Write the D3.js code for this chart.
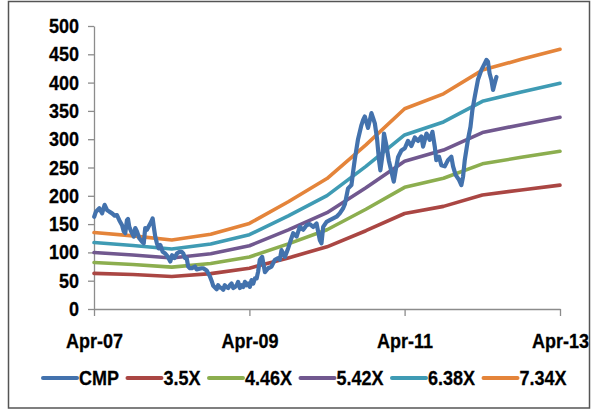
<!DOCTYPE html>
<html>
<head>
<meta charset="utf-8">
<script src="https://cdn.jsdelivr.net/npm/d3@7"></script>
<style>
  html, body { margin: 0; padding: 0; background: #fff; }
  svg { display: block; }
  text { font-family: "Liberation Sans", Arial, sans-serif; font-weight: bold; fill: #000; }
</style>
</head>
<body>
<svg id="chart" width="593" height="411"></svg>
<script>
// Share price (CMP) against P/E band lines
const bandDates = ["2007-04-01","2007-10-01","2008-04-01","2008-10-01","2009-04-01","2009-10-01",
  "2010-04-01","2010-10-01","2011-04-01","2011-10-01","2012-04-01","2012-10-01","2013-04-01"];

const band350 = [63.0, 61.0, 57.5, 62.5, 72.1, 90.3, 109.9, 138.3, 168.7, 181.3, 201.3, 210.4, 218.8];
const band446 = [82.1, 78.5, 74.0, 80.3, 91.9, 115.1, 140.0, 176.2, 215.0, 231.0, 256.5, 268.0, 278.8];
const band542 = [99.7, 95.4, 90.0, 97.6, 111.7, 139.8, 170.2, 214.1, 261.2, 280.8, 311.7, 325.7, 338.8];
const band638 = [117.4, 112.3, 105.9, 114.8, 131.4, 164.6, 200.3, 252.0, 307.5, 330.5, 366.9, 383.4, 398.8];
const band734 = [135.1, 129.2, 121.8, 132.1, 151.2, 189.4, 230.5, 289.9, 353.8, 380.2, 422.1, 441.1, 458.8];

const cmpDates = ["2007-04-02","2007-04-10","2007-04-26","2007-05-09","2007-05-21","2007-06-01","2007-06-12",
  "2007-06-25","2007-07-07","2007-07-18","2007-07-29","2007-08-11","2007-08-19","2007-08-26","2007-09-03",
  "2007-09-08","2007-09-14","2007-09-23","2007-10-05","2007-10-12","2007-10-20","2007-10-31","2007-11-13",
  "2007-11-21","2007-11-28","2007-12-06","2007-12-17","2007-12-26","2008-01-02","2008-01-08","2008-01-14",
  "2008-01-22","2008-01-30","2008-02-07","2008-02-18","2008-03-01","2008-03-14","2008-03-25","2008-04-02",
  "2008-04-14","2008-04-25","2008-05-06","2008-05-17","2008-05-25","2008-06-02","2008-06-10","2008-06-17",
  "2008-06-25","2008-07-03","2008-07-19","2008-07-27","2008-08-19","2008-08-27","2008-09-12","2008-09-27",
  "2008-10-05","2008-10-13","2008-10-29","2008-11-05","2008-11-13","2008-11-21","2008-11-29","2008-12-06",
  "2008-12-14","2008-12-22","2008-12-30","2009-01-07","2009-01-15","2009-01-23","2009-01-31","2009-02-07",
  "2009-02-15","2009-02-23","2009-03-03","2009-03-11","2009-03-19","2009-03-26","2009-04-03","2009-04-11",
  "2009-04-19","2009-04-27","2009-05-05","2009-05-12","2009-05-20","2009-05-31","2009-06-13","2009-06-28",
  "2009-07-14","2009-07-22","2009-07-30","2009-08-14","2009-08-22","2009-08-30","2009-09-15","2009-09-30",
  "2009-10-13","2009-10-24","2009-11-09","2009-11-24","2009-12-10","2009-12-26","2010-01-10","2010-01-26",
  "2010-02-11","2010-02-26","2010-03-06","2010-03-14","2010-03-30","2010-04-14","2010-04-30","2010-05-16",
  "2010-05-31","2010-06-16","2010-06-24","2010-07-09","2010-07-25","2010-08-02","2010-08-10","2010-08-25",
  "2010-09-10","2010-09-18","2010-09-26","2010-10-11","2010-10-27","2010-11-04","2010-11-12","2010-11-22",
  "2010-12-02","2010-12-08","2010-12-18","2010-12-25","2011-01-05","2011-01-17","2011-01-29","2011-02-09",
  "2011-02-18","2011-03-01","2011-03-17","2011-04-02","2011-04-17","2011-05-03","2011-05-19","2011-06-03",
  "2011-06-19","2011-06-27","2011-07-13","2011-07-28","2011-08-10","2011-08-21","2011-08-28","2011-09-10",
  "2011-09-21","2011-10-07","2011-10-22","2011-11-07","2011-11-15","2011-11-27","2011-12-13","2011-12-24",
  "2012-01-01","2012-01-09","2012-01-24","2012-02-05","2012-02-14","2012-02-25","2012-03-11","2012-03-27",
  "2012-04-12","2012-04-20","2012-04-27","2012-05-05","2012-05-13","2012-05-21","2012-05-29","2012-06-06"];

const cmpValues = [163,172,178,169,184,175,172,
  169,165,166,157,148,137,134,157,
  159,145,137,128,143,137,125,119,
  116,143,140,148,154,160,143,128,
  116,107,113,101,98,92,84,95,
  90,98,101,101,98,90,90,75,
  72,72,75,70,72,72,68,58,
  50,41,35,42,38,37,34,42,
  39,37,42,45,37,39,42,48,
  37,42,39,48,42,45,39,51,
  45,54,54,66,87,92,65,72,
  75,81,87,90,87,104,92,107,
  122,134,128,145,140,148,150,145,
  151,122,116,145,154,157,160,163,
  169,178,185,213,219,243,265,300,
  325,334,340,320,346,337,328,302,
  262,245,272,310,290,262,243,225,
  245,268,280,284,297,288,303,297,
  305,287,310,299,313,287,263,269,
  254,252,263,269,252,237,228,219,
  234,263,299,322,352,375,405,422,
  434,440,437,416,405,387,399,410];

const seriesNames = ["CMP", "3.5X", "4.46X", "5.42X", "6.38X", "7.34X"];
const seriesColors = ["#4372AD", "#AA4643", "#8CAE4F", "#71588F", "#3F9BB4", "#E4843A"];
const yTicks = [0, 50, 100, 150, 200, 250, 300, 350, 400, 450, 500];
const xTickDates = ["2007-04-01", "2009-04-01", "2011-04-01", "2013-04-01"];

const parse = d3.timeParse("%Y-%m-%d");
const svg = d3.select("#chart");

// outer frame
svg.append("rect")
  .attr("x", 8.5).attr("y", 1.5).attr("width", 581).attr("height", 406.5)
  .attr("fill", "#fff").attr("stroke", "#555").attr("stroke-width", 1.5);

const x = d3.scaleTime()
  .domain([parse("2007-04-01"), parse("2013-04-01")])
  .range([94, 560]);
const y = d3.scaleLinear().domain([0, 500]).range([309, 26]);

// axes
const yAxis = svg.append("g")
  .attr("transform", "translate(94,0)")
  .call(d3.axisLeft(y).tickValues(yTicks).tickSize(6).tickPadding(9).tickSizeOuter(0));
const xAxis = svg.append("g")
  .attr("transform", "translate(0,309)")
  .call(d3.axisBottom(x).tickValues(xTickDates.map(parse)).tickSize(7).tickSizeOuter(0)
    .tickFormat(d3.timeFormat("%b-%y")));

[yAxis, xAxis].forEach(g => {
  g.select(".domain").attr("stroke", "#8c8c8c").attr("stroke-width", 1.3);
  g.selectAll(".tick line").attr("stroke", "#8c8c8c").attr("stroke-width", 1.3);
  g.selectAll("text").attr("font-size", 18).attr("font-family", null)
    .attr("stroke", "#000").attr("stroke-width", 0.25);
});
yAxis.selectAll("text").attr("transform", "scale(1,1.1)").attr("dy", "0.33em");
xAxis.selectAll("text").attr("y", 35.5).attr("dy", 0).attr("transform", "scale(1,1.1)");

// lines
const line = d3.line().x(d => x(d[0])).y(d => y(d[1]));
const bands = [band350, band446, band542, band638, band734];
const bandDateObjs = bandDates.map(parse);

const plot = svg.append("g")
  .attr("fill", "none")
  .attr("stroke-linejoin", "round")
  .attr("stroke-linecap", "round");

bands.forEach((vals, i) => {
  plot.append("path")
    .datum(vals.map((v, j) => [bandDateObjs[j], v]))
    .attr("d", line)
    .attr("stroke", seriesColors[i + 1])
    .attr("stroke-width", 3.6);
});

plot.append("path")
  .datum(cmpValues.map((v, j) => [parse(cmpDates[j]), v]))
  .attr("d", line)
  .attr("stroke", seriesColors[0])
  .attr("stroke-width", 4.2);

// legend
const legend = svg.append("g").attr("transform", "translate(0,378)");
let lx = 43;
seriesNames.forEach((name, i) => {
  legend.append("line")
    .attr("x1", lx).attr("x2", lx + 34).attr("y1", 0).attr("y2", 0)
    .attr("stroke", seriesColors[i]).attr("stroke-width", 4).attr("stroke-linecap", "round");
  const t = legend.append("text")
    .attr("transform", `translate(${lx + 36},0) scale(1,1.1)`)
    .attr("dy", "0.36em")
    .attr("font-size", 18)
    .attr("stroke", "#000").attr("stroke-width", 0.25)
    .text(name);
  lx += 36 + t.node().getComputedTextLength() + 8.5;
});
</script>
</body>
</html>
